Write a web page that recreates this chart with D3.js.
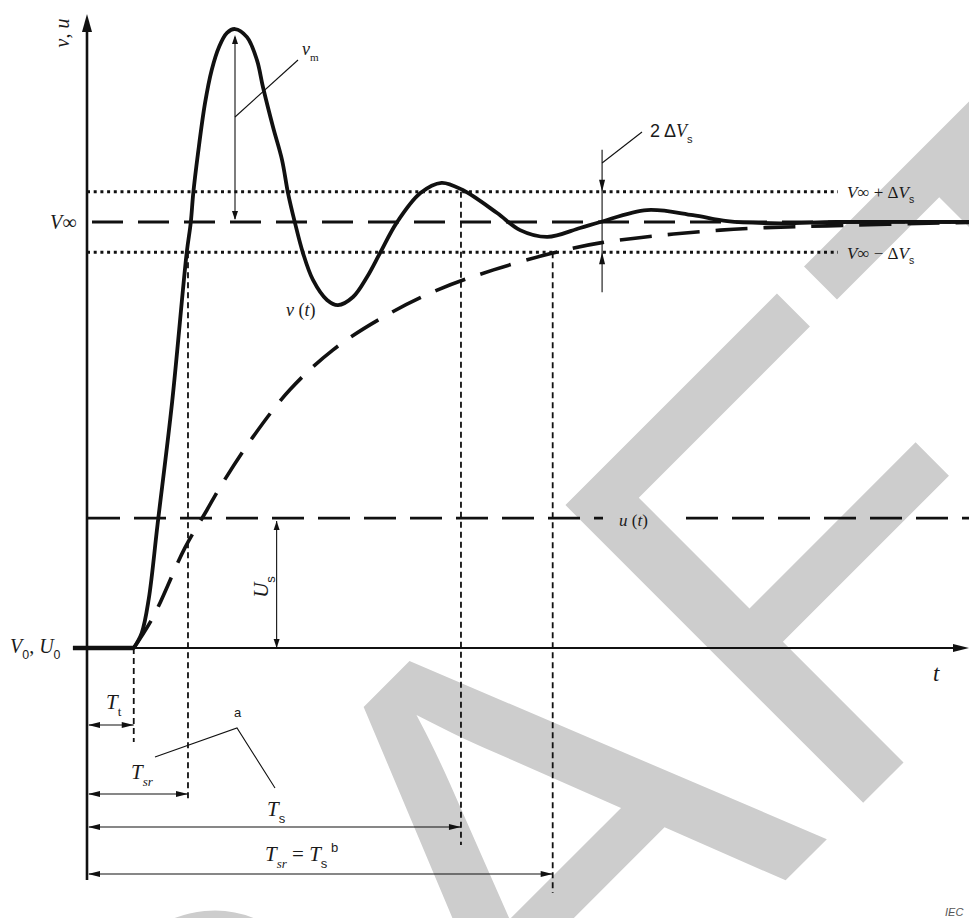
<!DOCTYPE html>
<html>
<head>
<meta charset="utf-8">
<script src="https://cdn.jsdelivr.net/npm/d3@7"></script>
<style>
body { margin: 0; background: #fff; }
svg { display: block; }
</style>
</head>
<body>
<div id="viz"></div>
<script>
let w = 969;
let h = 918;

// normalised values: V0 = 0, V_inf = 1, time in arbitrary units (0..100)
// output voltage v(t) : [time, value]
let vCurve = [
    [5.3, 0], [6.2, 0.035], [7.0, 0.115], [8.0, 0.29], [9.64, 0.575],
    [11.3, 0.927], [11.76, 0.998], [12.05, 1.068], [12.59, 1.162], [13.38, 1.279],
    [14.14, 1.357], [14.97, 1.411], [15.87, 1.444], [16.78, 1.453], [18.14, 1.434],
    [19.27, 1.38], [19.95, 1.317], [21.09, 1.223], [22.11, 1.146], [22.79, 1.068],
    [23.58, 0.998], [24.49, 0.927], [25.62, 0.864], [27.21, 0.817], [28.46, 0.805],
    [30.16, 0.824], [31.75, 0.871], [33.22, 0.927], [35.1, 0.998], [37.8, 1.068],
    [40.2, 1.092], [42.6, 1.075], [46.5, 1.021], [49.1, 0.981], [52.2, 0.965],
    [55.9, 0.986], [58.2, 1.0], [63.5, 1.028], [68.7, 1.016], [72.6, 1.002],
    [78.6, 0.997], [85, 1.0], [100, 1.0]
];
// v(t) before the delay, from the left of the axis
let vStart = [[-1.6, 0], [5.3, 0]];

// aperiodic (exponential) response : [time, value]
let expCurve = [
    [5.3, 0], [7.5, 0.073], [11.1, 0.235], [13.6, 0.324], [15.1, 0.378],
    [18.8, 0.495], [23.0, 0.606], [27.9, 0.700], [33.6, 0.777], [39.7, 0.840],
    [46.0, 0.887], [52.8, 0.927], [58.2, 0.951], [71.8, 0.981], [83.9, 0.991],
    [100, 0.999]
];

// levels
let vInf = 1;
let dVs = 0.071;
let uS = 0.305;
let vPeak = 1.453;

// times
let tT = 5.3;
let tSr = 11.45;
let tS = 42.4;
let tSrExp = 52.8;
let tPeak = 16.78;
let tUs = 21.5;
let tBand = 58.4;

let viz = d3.select("#viz")
    .append("svg")
    .attr("width", w)
    .attr("height", h)
    .attr("viewBox", "0 0 " + w + " " + h);

let xScale = d3.scaleLinear().domain([0, 100]).range([87, 969]);
let yScale = d3.scaleLinear().domain([0, 1]).range([648, 222]);

let x0 = xScale(0);
let y0 = yScale(0);
let ink = "#111";

// watermark
viz.append("text")
    .attr("transform", "translate(-86,1752) rotate(-45)")
    .attr("font-family", "Liberation Sans")
    .attr("font-size", 612)
    .attr("fill", "#cdcdcd")
    .text("DRAFT");

function line(x1, y1, x2, y2, width, dash) {
    let l = viz.append("line")
        .attr("x1", x1).attr("y1", y1)
        .attr("x2", x2).attr("y2", y2)
        .attr("stroke", ink)
        .attr("stroke-width", width);
    if (dash) l.attr("stroke-dasharray", dash);
    return l;
}

// filled arrow head, tip at (x,y), pointing along (dx,dy)
function head(x, y, dx, dy, len, half) {
    let px = -dy, py = dx;
    let bx = x - dx * len, by = y - dy * len;
    viz.append("path")
        .attr("d", "M" + x + "," + y +
            "L" + (bx + px * half) + "," + (by + py * half) +
            "L" + (bx - px * half) + "," + (by - py * half) + "Z")
        .attr("fill", ink);
}

function label(x, y, parts, size, g) {
    let t = (g || viz).append("text")
        .attr("x", x).attr("y", y)
        .attr("font-family", "Liberation Serif")
        .attr("font-size", size)
        .attr("fill", "#1a1a1a");
    let shift = 0;
    parts.forEach(function (p) {
        let ts = t.append("tspan").text(p.s);
        let target = p.sub ? size * 0.32 : (p.sup ? -size * 0.45 : 0);
        ts.attr("dy", target - shift);
        shift = target;
        if (p.sub || p.sup) ts.attr("font-size", size * 0.62);
        if (p.i) ts.attr("font-style", "italic");
        if (p.sans) ts.attr("font-family", "Liberation Sans");
        if (p.dx) ts.attr("dx", p.dx);
    });
    return t;
}

// axes
line(x0, 880, x0, 30, 2.6);
head(x0, 14, 0, -1, 18, 5);
line(75, y0, 955, y0, 1.8);
head(969, y0, 1, 0, 16, 4);

// tolerance band and final value
line(x0, yScale(vInf + dVs), 838, yScale(vInf + dVs), 2.8, "3,3.7");
line(x0, yScale(vInf - dVs), 838, yScale(vInf - dVs), 2.8, "3,3.7");
line(92, yScale(vInf), 969, yScale(vInf), 2.8, "31,15");

// input step u(t)
line(88, yScale(uS), 603, yScale(uS), 2.8, "32,14");
line(686, yScale(uS), 969, yScale(uS), 2.8, "32,14");

// time markers
line(xScale(tT), y0, xScale(tT), 742, 1.8, "6,4");
line(xScale(tSr), yScale(vInf - dVs), xScale(tSr), 800, 1.8, "6,4");
line(xScale(tS), yScale(vInf + dVs), xScale(tS), 845, 1.8, "6,4");
line(xScale(tSrExp), yScale(vInf - dVs), xScale(tSrExp), 893, 1.8, "6,4");

// curves
let lineMaker = d3.line()
    .x(function (d) { return xScale(d[0]); })
    .y(function (d) { return yScale(d[1]); })
    .curve(d3.curveCatmullRom.alpha(0.5));

viz.append("path")
    .attr("d", lineMaker(expCurve))
    .attr("fill", "none")
    .attr("stroke", ink)
    .attr("stroke-width", 3.6)
    .attr("stroke-dasharray", "32,16");

viz.append("path")
    .attr("d", lineMaker(vCurve))
    .attr("fill", "none")
    .attr("stroke", ink)
    .attr("stroke-width", 3.8)
    .attr("stroke-linejoin", "round")
    .attr("stroke-linecap", "round");

// bold start segment of v(t)
viz.append("path")
    .attr("d", d3.line().x(d => xScale(d[0])).y(d => yScale(d[1]))(vStart))
    .attr("fill", "none")
    .attr("stroke", ink)
    .attr("stroke-width", 4.5);

// v_m dimension
let xp = xScale(tPeak);
line(xp, yScale(vPeak) + 8, xp, yScale(vInf) - 3, 1.1);
head(xp, yScale(vPeak) + 6, 0, -1, 9, 3);
head(xp, yScale(vInf) - 2, 0, 1, 9, 3);
line(xp, 117, 298, 60, 1.1);

// U_s dimension
let xu = xScale(tUs);
line(xu, yScale(uS) + 3, xu, y0, 1.1);
head(xu, yScale(uS) + 3, 0, -1, 9, 3);
head(xu, y0, 0, 1, 9, 3);

// 2 dV_s dimension
let xb = xScale(tBand);
line(xb, yScale(vInf + dVs) - 42, xb, yScale(vInf - dVs) + 40, 1.1);
head(xb, yScale(vInf + dVs), 0, 1, 12, 3);
head(xb, yScale(vInf - dVs), 0, -1, 12, 3);
line(xb, 163, 642, 132, 1.1);

// time dimensions below the axis
let rows = [[tT, 725], [tSr, 794], [tS, 827], [tSrExp, 874]];
rows.forEach(function (r) {
    let xe = xScale(r[0]);
    line(x0 + 2, r[1], xe, r[1], 1.1);
    head(x0 + 1, r[1], -1, 0, 12, 3);
    head(xe, r[1], 1, 0, 12, 3);
});

// leader for note a
viz.append("polyline")
    .attr("points", "155,757 237,728 275,788")
    .attr("fill", "none")
    .attr("stroke", ink)
    .attr("stroke-width", 1.1);

// labels
let vLabel = [{ s: "v", i: true }, { s: ", " }, { s: "u", i: true }];
label(0, 0, vLabel, 20, viz.append("g").attr("transform", "translate(69,33) rotate(-90)"))
    .attr("text-anchor", "middle");

label(50, 229, [{ s: "V", i: true }, { s: "∞" }], 20);
label(10, 653, [{ s: "V", i: true }, { s: "0", sub: true, sans: true }, { s: ", " },
    { s: "U", i: true }, { s: "0", sub: true, sans: true }], 20);
label(933, 681, [{ s: "t", i: true }], 23);
label(286, 316, [{ s: "v", i: true }, { s: " (" }, { s: "t", i: true }, { s: ")" }], 18);
label(619, 526, [{ s: "u", i: true }, { s: " (" }, { s: "t", i: true }, { s: ")" }], 17);
label(302, 55, [{ s: "v", i: true }, { s: "m", sub: true }], 18);

label(0, 0, [{ s: "U", i: true }, { s: "s", sub: true, sans: true }], 21,
    viz.append("g").attr("transform", "translate(268,587) rotate(-90)"))
    .attr("text-anchor", "middle");

label(650, 137, [{ s: "2 Δ", sans: true }, { s: "V", i: true }, { s: "s", sub: true, sans: true }], 18);
label(847, 198, [{ s: "V", i: true }, { s: "∞" }, { s: " + Δ" }, { s: "V", i: true },
    { s: "s", sub: true, sans: true }], 17);
label(847, 259, [{ s: "V", i: true }, { s: "∞" }, { s: " − Δ" }, { s: "V", i: true },
    { s: "s", sub: true, sans: true }], 17);

label(106, 709, [{ s: "T", i: true }, { s: "t", sub: true }], 21);
label(131, 779, [{ s: "T", i: true }, { s: "sr", sub: true, i: true }], 21);
label(267, 816, [{ s: "T", i: true }, { s: "s", sub: true, sans: true }], 21);
label(265, 861, [{ s: "T", i: true }, { s: "sr", sub: true, i: true }, { s: " = " },
    { s: "T", i: true }, { s: "s", sub: true, sans: true }, { s: " b", sup: true, sans: true }], 21);
label(234, 717, [{ s: "a", sans: true }], 13);

viz.append("text")
    .attr("x", 945).attr("y", 916)
    .attr("font-family", "Liberation Sans")
    .attr("font-style", "italic")
    .attr("font-size", 11)
    .attr("fill", "#555")
    .text("IEC");
</script>
</body>
</html>
